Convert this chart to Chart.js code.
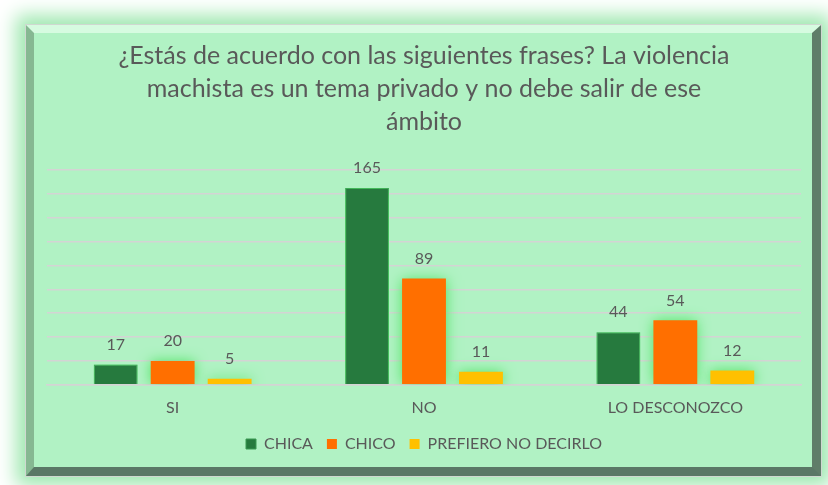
<!DOCTYPE html>
<html>
<head>
<meta charset="utf-8">
<script src="https://cdn.jsdelivr.net/npm/chart.js@4"></script>
<style>
  html, body { margin: 0; padding: 0; background: #fff; }
  body { width: 828px; height: 485px; position: relative; overflow: hidden; }
  #frame {
    position: absolute; left: 26px; top: 25px; width: 778px; height: 434px;
    background: #b1f2c4;
    border-style: solid;
    border-width: 8px 9px 9px 8px;
    border-color: #d6fbe0 #5f7d69 #5a7866 #86b892;
    outline: 1px solid #cfd8d0;
    box-shadow: 0 0 18px 10px #9fe8b0;
  }
  #chartBox { position: absolute; left: 0; top: 0; width: 778px; height: 434px; }
</style>
</head>
<body>
<div id="frame">
  <div id="chartBox"><canvas id="barChart"></canvas></div>
</div>
<script>
const categories = ["SI", "NO", "LO DESCONOZCO"];
const chica = [17, 165, 44];
const chico = [20, 89, 54];
const prefiero = [5, 11, 12];
const yTicks = { min: 0, max: 180, step: 20 };

const textColor = '#595959';
const labelFont = "Lato, 'DejaVu Sans Condensed', sans-serif";

// soft green glow behind every bar
const barGlow = {
  id: 'barGlow',
  beforeDatasetsDraw(chart) {
    const c = chart.ctx;
    c.save();
    c.shadowColor = 'rgba(80, 228, 100, 1)';
    c.shadowBlur = 13;
  },
  afterDatasetsDraw(chart) {
    chart.ctx.restore();
  }
};

// value above each bar
const valueLabels = {
  id: 'valueLabels',
  afterDatasetsDraw(chart) {
    const c = chart.ctx;
    c.save();
    c.font = '16px Lato';
    c.fillStyle = textColor;
    c.textAlign = 'center';
    c.textBaseline = 'middle';
    chart.data.datasets.forEach((ds, i) => {
      chart.getDatasetMeta(i).data.forEach((bar, j) => {
        c.fillText(ds.data[j], bar.x, bar.y - 20);
      });
    });
    c.restore();
  }
};

new Chart(document.getElementById('barChart'), {
  type: 'bar',
  data: {
    labels: categories,
    datasets: [
      { label: 'CHICA', data: chica, backgroundColor: '#267a3e', borderColor: '#3a9a52', borderWidth: 1 },
      { label: 'CHICO', data: chico, backgroundColor: '#ff6f00' },
      { label: 'PREFIERO NO DECIRLO', data: prefiero, backgroundColor: '#ffc000' }
    ]
  },
  options: {
    responsive: true,
    maintainAspectRatio: false,
    animation: false,
    categoryPercentage: 0.68,
    barPercentage: 0.77,
    layout: { padding: { left: 13, right: 11, top: 0, bottom: 5 } },
    plugins: {
      title: {
        display: true,
        text: ['¿Estás de acuerdo con las siguientes frases? La violencia',
               'machista es un tema privado y no debe salir de ese',
               'ámbito'],
        color: textColor,
        font: { family: labelFont, size: 25, weight: 'normal', lineHeight: 1.32 },
        padding: { top: 6, bottom: 32 }
      },
      legend: {
        position: 'bottom',
        labels: {
          color: textColor,
          font: { family: labelFont, size: 16 },
          boxWidth: 10,
          boxHeight: 10,
          padding: 14,
          useBorderRadius: false
        }
      },
      tooltip: { enabled: false }
    },
    scales: {
      x: {
        grid: { display: false },
        border: { color: '#d4d4d4', width: 1.5 },
        ticks: { color: textColor, font: { family: labelFont, size: 16 }, padding: 5 }
      },
      y: {
        min: yTicks.min,
        max: yTicks.max,
        ticks: { display: false, stepSize: yTicks.step },
        grid: { color: '#d4d4d4', lineWidth: 1.5, drawTicks: false },
        border: { display: false }
      }
    }
  },
  plugins: [barGlow, valueLabels]
});
</script>
</body>
</html>
